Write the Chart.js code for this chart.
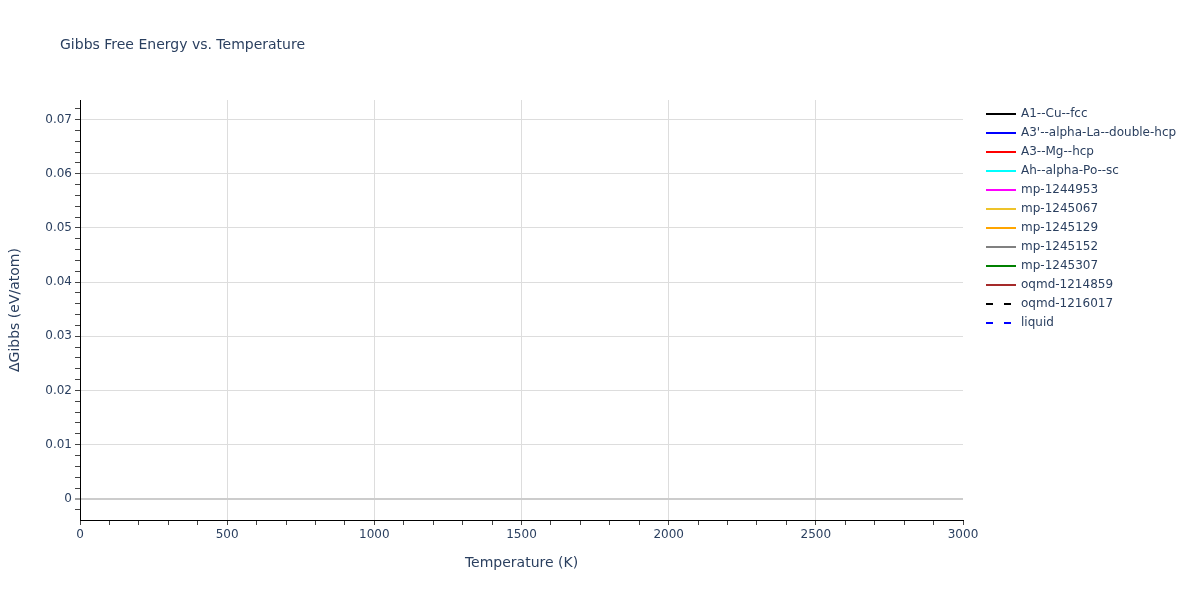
<!DOCTYPE html>
<html>
<head>
<meta charset="utf-8">
<script src="https://cdn.jsdelivr.net/npm/chart.js@4.4.0/dist/chart.umd.min.js"></script>
<style>
html,body{margin:0;padding:0;background:#fff;}
#wrap{width:1200px;height:600px;position:relative;}
</style>
</head>
<body>
<div id="wrap"><canvas id="c" width="1200" height="600"></canvas></div>
<script>
// ---- data ----
const chartTitle = 'Gibbs Free Energy vs. Temperature';
const xAxisTitle = 'Temperature (K)';
const yAxisTitle = 'ΔGibbs (eV/atom)';
const seriesNames = ['A1--Cu--fcc', "A3'--alpha-La--double-hcp", 'A3--Mg--hcp', 'Ah--alpha-Po--sc',
  'mp-1244953', 'mp-1245067', 'mp-1245129', 'mp-1245152', 'mp-1245307', 'oqmd-1214859',
  'oqmd-1216017', 'liquid'];
const seriesColors = ['#000000', '#0000ff', '#ff0000', '#00ffff', '#ff00ff', '#eec32a',
  '#ffa500', '#808080', '#008000', '#a52a2a', '#000000', '#0000ff'];
const seriesDashed = [false, false, false, false, false, false, false, false, false, false, true, true];
// The reference shows no visible curve points inside the plotted range.
const temperatures = [];
const seriesValues = [[], [], [], [], [], [], [], [], [], [], [], []];
const xTickLabels = [0, 500, 1000, 1500, 2000, 2500, 3000];
const yTickLabels = [0, 0.01, 0.02, 0.03, 0.04, 0.05, 0.06, 0.07];
const xRange = [0, 3000];
const yRange = [-0.0039, 0.0736];
const xMinorStep = 100;
const yMinorStep = 0.002;

// ---- helpers ----
const TXT = '#2a3f5f';
const FONT = '"DejaVu Sans", Verdana, sans-serif';
const GRID = '#dddddd';
const near = (a, b) => Math.abs(a - b) < 1e-9;
const isMajorX = v => xTickLabels.some(t => near(t, v));
const isMajorY = v => yTickLabels.some(t => near(t, v));

function minorTicks(min, max, step) {
  const out = [];
  const start = Math.ceil(min / step - 1e-9);
  const end = Math.floor(max / step + 1e-9);
  for (let i = start; i <= end; i++) out.push({ value: +(i * step).toFixed(10) });
  return out;
}

const datasets = seriesNames.map((name, i) => ({
  label: name,
  data: seriesValues[i].map((y, k) => ({ x: temperatures[k], y })),
  borderColor: seriesColors[i],
  backgroundColor: seriesColors[i],
  borderWidth: 2,
  borderDash: seriesDashed[i] ? [9, 9] : [],
  pointRadius: 0,
  fill: false
}));

const overlayPlugin = {
  id: 'overlay',
  afterDraw(chart) {
    const ctx = chart.ctx;
    ctx.save();
    ctx.fillStyle = TXT;
    ctx.textBaseline = 'middle';
    ctx.textAlign = 'left';
    ctx.font = '14px ' + FONT;
    ctx.fillText(chartTitle, 60, 45);
    ctx.font = '12px ' + FONT;
    chart.data.datasets.forEach((ds, i) => {
      const y = 114 + i * 19;
      ctx.strokeStyle = ds.borderColor;
      ctx.lineWidth = 2;
      ctx.setLineDash(ds.borderDash && ds.borderDash.length ? [7, 11] : []);
      ctx.beginPath();
      ctx.moveTo(986, y);
      ctx.lineTo(1016, y);
      ctx.stroke();
      ctx.setLineDash([]);
      ctx.fillText(ds.label, 1021, y);
    });
    ctx.restore();
  }
};

new Chart(document.getElementById('c'), {
  type: 'line',
  data: { datasets },
  options: {
    responsive: false,
    animation: false,
    devicePixelRatio: 1,
    layout: { padding: { left: 0, top: 100, right: 237, bottom: 0 } },
    plugins: { legend: { display: false }, title: { display: false }, tooltip: { enabled: false } },
    scales: {
      x: {
        type: 'linear',
        min: xRange[0],
        max: xRange[1],
        afterBuildTicks: s => { s.ticks = minorTicks(xRange[0], xRange[1], xMinorStep); },
        afterFit: s => { s.height = 80; },
        ticks: {
          autoSkip: false,
          maxRotation: 0,
          padding: 3,
          color: TXT,
          font: { family: FONT, size: 12 },
          callback: v => isMajorX(v) ? String(v) : ''
        },
        grid: {
          color: c => (isMajorX(c.tick.value) && c.tick.value !== xRange[0] && c.tick.value !== xRange[1]) ? GRID : 'rgba(0,0,0,0)',
          lineWidth: 1,
          tickColor: '#444',
          tickWidth: 1,
          tickLength: 5
        },
        border: { color: '#000', width: 1 },
        title: {
          display: true,
          text: xAxisTitle,
          color: TXT,
          font: { family: FONT, size: 14 },
          padding: { top: 0, bottom: 28 }
        }
      },
      y: {
        type: 'linear',
        min: yRange[0],
        max: yRange[1],
        afterBuildTicks: s => { s.ticks = minorTicks(yRange[0], yRange[1], yMinorStep); },
        afterFit: s => { s.width = 80; },
        ticks: {
          autoSkip: false,
          padding: 3,
          color: TXT,
          font: { family: FONT, size: 12 },
          callback: v => isMajorY(v) ? (near(v, 0) ? '0' : v.toFixed(2)) : ''
        },
        grid: {
          color: c => isMajorY(c.tick.value) ? (near(c.tick.value, 0) ? '#cccccc' : GRID) : 'rgba(0,0,0,0)',
          lineWidth: c => near(c.tick.value, 0) ? 2 : 1,
          tickColor: '#444',
          tickWidth: 1,
          tickLength: 5
        },
        border: { color: '#000', width: 1 },
        title: {
          display: true,
          text: yAxisTitle,
          color: TXT,
          font: { family: FONT, size: 14 },
          padding: { top: 7, bottom: 0 }
        }
      }
    }
  },
  plugins: [overlayPlugin]
});
</script>
</body>
</html>
